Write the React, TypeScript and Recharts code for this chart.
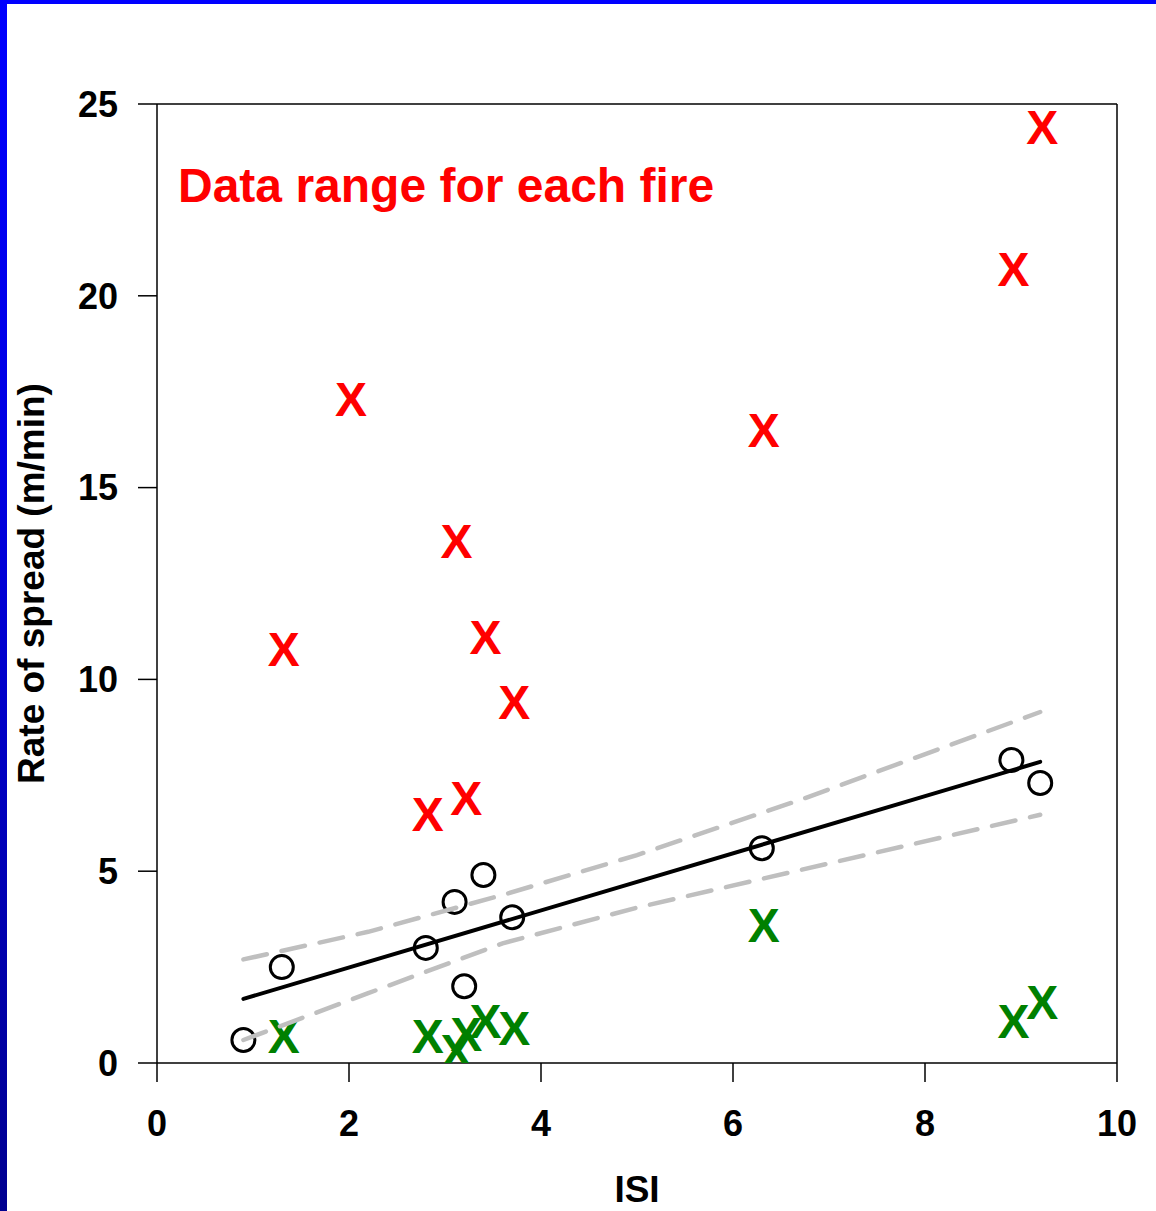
import React from 'react';
import { ComposedChart, Scatter, XAxis, YAxis, ReferenceLine } from 'recharts';

// Observed (mean) rate of spread per fire
const obsISI = [0.9, 1.3, 2.8, 3.1, 3.2, 3.4, 3.7, 6.3, 8.9, 9.2];
const obsROS = [0.6, 2.5, 3.0, 4.2, 2.0, 4.9, 3.8, 5.6, 7.9, 7.3];
// Maximum of the data range for each fire (red X)
const maxISI = [1.3, 2.0, 2.8, 3.1, 3.2, 3.4, 3.7, 6.3, 8.9, 9.2];
const maxROS = [10.8, 17.3, 6.5, 13.6, 6.9, 11.1, 9.4, 16.5, 20.7, 24.4];
// Minimum of the data range for each fire (green X)
const minISI = [1.3, 2.8, 3.1, 3.2, 3.4, 3.7, 6.3, 8.9, 9.2];
const minROS = [0.7, 0.7, 0.3, 0.75, 1.1, 0.9, 3.6, 1.1, 1.6];
// Regression line and confidence band
const fitISI = [0.9, 9.2];
const fitROS = [1.67, 7.85];
const bandISI = [0.9, 2.2, 3.6, 5.0, 6.7, 9.2];
const upperROS = [2.7, 3.42, 4.38, 5.42, 6.86, 9.15];
const lowerROS = [0.6, 1.82, 3.12, 4.05, 5.03, 6.47];

const xTicks = [0, 2, 4, 6, 8, 10];
const yTicks = [0, 5, 10, 15, 20, 25];

const zip = (xs: number[], ys: number[]) => xs.map((x, i) => ({ x, y: ys[i] }));

const obsData = zip(obsISI, obsROS);
const maxData = zip(maxISI, maxROS);
const minData = zip(minISI, minROS);
const fitData = zip(fitISI, fitROS);
const upperData = zip(bandISI, upperROS);
const lowerData = zip(bandISI, lowerROS);

const FONT = '"Liberation Sans", Arial, Helvetica, sans-serif';

const Circle = (props: any) => {
  const { cx, cy } = props;
  if (cx == null || cy == null) return <g />;
  return <circle cx={cx} cy={cy} r={11.5} fill="none" stroke="#000" strokeWidth={3} />;
};

const makeX = (color: string) => (props: any) => {
  const { cx, cy } = props;
  if (cx == null || cy == null) return <g />;
  return (
    <text
      x={cx + 2}
      y={cy + 17}
      textAnchor="middle"
      fontFamily={FONT}
      fontWeight="bold"
      fontSize={48}
      fill={color}
    >
      X
    </text>
  );
};

const Empty = () => <g />;

const XTitle = (props: any) => {
  const vb = props.viewBox;
  return (
    <text
      x={vb.x + vb.width / 2}
      y={vb.y + 139}
      textAnchor="middle"
      fontFamily={FONT}
      fontWeight="bold"
      fontSize={37}
      fill="#000"
    >
      ISI
    </text>
  );
};

const YTitle = (props: any) => {
  const vb = props.viewBox;
  const cx = 44;
  const cy = vb.y + vb.height / 2;
  return (
    <text
      x={cx}
      y={cy}
      transform={`rotate(-90 ${cx} ${cy})`}
      textAnchor="middle"
      fontFamily={FONT}
      fontWeight="bold"
      fontSize={37}
      fill="#000"
    >
      Rate of spread (m/min)
    </text>
  );
};

export default function App() {
  const tickStyle = { fontFamily: FONT, fontWeight: 'bold', fontSize: 36, fill: '#000' };
  return (
    <div
      style={{
        position: 'absolute',
        left: 0,
        top: 0,
        width: 1156,
        height: 1211,
        background: '#fff',
        overflow: 'hidden',
      }}
    >
      <div style={{ position: 'absolute', left: 0, top: 0, width: 1156, height: 4, background: '#0000ff' }} />
      <div
        style={{
          position: 'absolute',
          left: 0,
          top: 0,
          width: 7,
          height: 1211,
          background: 'linear-gradient(to bottom, #0000ff 0%, #0000e0 40%, #000090 100%)',
        }}
      />
      <ComposedChart
        width={1156}
        height={1211}
        margin={{ top: 104, right: 39, left: 57, bottom: 48 }}
        style={{ position: 'absolute', left: 0, top: 0 }}
      >
        <XAxis
          type="number"
          dataKey="x"
          domain={[0, 10]}
          ticks={xTicks}
          allowDataOverflow
          height={100}
          tickSize={19}
          tickMargin={28}
          stroke="#000"
          strokeWidth={1.5}
          tick={tickStyle}
          tickLine={{ stroke: '#000', strokeWidth: 1.5 }}
          axisLine={{ stroke: '#000', strokeWidth: 1.5 }}
          label={<XTitle />}
        />
        <YAxis
          type="number"
          dataKey="y"
          domain={[0, 25]}
          ticks={yTicks}
          allowDataOverflow
          width={100}
          tickSize={19}
          tickMargin={20}
          stroke="#000"
          strokeWidth={1.5}
          tick={tickStyle}
          tickLine={{ stroke: '#000', strokeWidth: 1.5 }}
          axisLine={{ stroke: '#000', strokeWidth: 1.5 }}
          label={<YTitle />}
        />
        <ReferenceLine y={25} stroke="#000" strokeWidth={1.5} />
        <ReferenceLine x={10} stroke="#000" strokeWidth={1.5} />
        <Scatter data={obsData} shape={Circle} isAnimationActive={false} />
        <Scatter data={maxData} shape={makeX('#ff0000')} isAnimationActive={false} />
        <Scatter data={minData} shape={makeX('#008000')} isAnimationActive={false} />
        <Scatter
          data={upperData}
          shape={Empty}
          line={{ stroke: '#bfbfbf', strokeWidth: 4.5, strokeDasharray: '24 15', strokeLinecap: 'round' }}
          lineType="joint"
          isAnimationActive={false}
        />
        <Scatter
          data={lowerData}
          shape={Empty}
          line={{ stroke: '#bfbfbf', strokeWidth: 4.5, strokeDasharray: '24 15', strokeLinecap: 'round' }}
          lineType="joint"
          isAnimationActive={false}
        />
        <Scatter
          data={fitData}
          shape={Empty}
          line={{ stroke: '#000', strokeWidth: 4, strokeLinecap: 'round' }}
          lineType="joint"
          isAnimationActive={false}
        />
      </ComposedChart>
      <svg
        width={1156}
        height={1211}
        style={{ position: 'absolute', left: 0, top: 0, pointerEvents: 'none' }}
      >
        <text x={178} y={202} fontFamily={FONT} fontWeight="bold" fontSize={48} fill="#ff0000">
          Data range for each fire
        </text>
      </svg>
    </div>
  );
}
